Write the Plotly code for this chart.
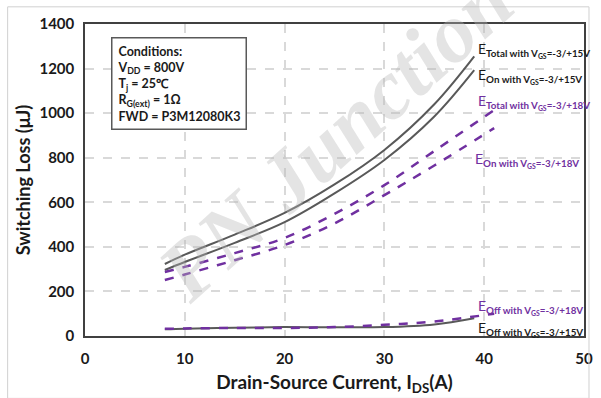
import plotly.graph_objects as go

# Data
x15 = [8, 10, 15, 20, 25, 30, 35, 39]
etotal15 = [323, 365, 455, 552, 680, 835, 1040, 1255]
eon15 = [296, 332, 418, 511, 640, 790, 985, 1193]
eoff15 = [30, 33, 37, 40, 39, 40, 52, 80]

x18 = [8, 10, 15, 20, 25, 30, 35, 41]
etotal18 = [287, 310, 372, 440, 548, 677, 830, 1014]
eon18 = [251, 276, 340, 408, 505, 632, 765, 933]
eoff18 = [32, 34, 36, 36, 40, 50, 65, 100]

gray = "#595959"
purple = "#7030A0"
font = "Lato"

fig = go.Figure()
fig.add_trace(go.Scatter(x=x15, y=etotal15, mode="lines", line=dict(color=gray, width=2, shape="spline"), showlegend=False))
fig.add_trace(go.Scatter(x=x15, y=eon15, mode="lines", line=dict(color=gray, width=2, shape="spline"), showlegend=False))
fig.add_trace(go.Scatter(x=x15, y=eoff15, mode="lines", line=dict(color=gray, width=2, shape="spline"), showlegend=False))
fig.add_trace(go.Scatter(x=x18, y=etotal18, mode="lines", line=dict(color=purple, width=2.5, dash="dash", shape="spline"), showlegend=False))
fig.add_trace(go.Scatter(x=x18, y=eon18, mode="lines", line=dict(color=purple, width=2.5, dash="dash", shape="spline"), showlegend=False))
fig.add_trace(go.Scatter(x=x18, y=eoff18, mode="lines", line=dict(color=purple, width=2.5, dash="dash", shape="spline"), showlegend=False))

def lab(x, y, big, sub, color):
    fig.add_annotation(x=x, y=y, xref="x", yref="y", xanchor="left", yanchor="middle", showarrow=False,
                       text=f"E<sub><b>{big} with V<sub>GS</sub>=-3/+{sub}V</b></sub>",
                       font=dict(family=font, size=14, color=color))

lab(39.2, 1285, "Total", 15, "#1a1a1a")
lab(39.2, 1165, "On", 15, "#1a1a1a")
lab(39.2, 1052, "Total", 18, purple)
lab(38.9, 790, "On", 18, purple)
lab(39.2, 132, "Off", 18, purple)
lab(39.2, 30, "Off", 15, "#1a1a1a")

# Conditions box
fig.add_annotation(x=0.053, y=0.958, xref="paper", yref="paper", xanchor="left", yanchor="top", showarrow=False,
                   align="left", bordercolor="#595959", borderwidth=1.5, borderpad=5, bgcolor="white",
                   text="<b>Conditions:<br>V<sub>DD</sub> = 800V<br>T<sub>j</sub> = 25\u2103<br>R<sub>G(ext)</sub> = 1\u03a9<br>FWD = P3M12080K3</b>",
                   font=dict(family=font, size=12.5, color="#1a1a1a"))

# Watermark
fig.add_annotation(x=0.5, y=0.64, xref="paper", yref="paper", showarrow=False, textangle=-42,
                   text="<b><i>PN Junction</i></b>", font=dict(family="Liberation Serif", size=84, color="rgba(185,185,185,0.38)"))

# Outer frame
fig.add_shape(type="rect", xref="paper", yref="paper", x0=-0.155, x1=1.01, y0=-0.2, y1=1.055,
              line=dict(color="#d0d0d0", width=1))

fig.update_layout(
    width=601, height=398,
    margin=dict(l=85, r=8, t=24, b=62),
    paper_bgcolor="white", plot_bgcolor="white",
    font=dict(family=font, color="#1a1a1a"),
    xaxis=dict(range=[0, 50], dtick=10, showgrid=True, gridcolor="#d9d9d9", griddash="dash", gridwidth=1.5,
               showline=True, linecolor="#404040", linewidth=1.5, mirror=True, zeroline=False,
               ticks="outside", ticklen=8, tickcolor="rgba(0,0,0,0)",
               tickfont=dict(family=font, size=15, color="#1a1a1a", weight="bold"),
               title=dict(text="<b>Drain-Source Current, I<sub>DS</sub>(A)</b>", font=dict(family=font, size=19, color="#1a1a1a"), standoff=10)),
    yaxis=dict(range=[0, 1400], dtick=200, showgrid=True, gridcolor="#d9d9d9", griddash="dash", gridwidth=1.5,
               showline=True, linecolor="#404040", linewidth=1.5, mirror=True, zeroline=False,
               ticks="outside", ticklen=6, tickcolor="rgba(0,0,0,0)",
               tickfont=dict(family=font, size=15, color="#1a1a1a", weight="bold"),
               title=dict(text="<b>Switching Loss (\u03bcJ)</b>", font=dict(family=font, size=18, color="#1a1a1a"), standoff=4)),
)
fig.write_html("out.html")
